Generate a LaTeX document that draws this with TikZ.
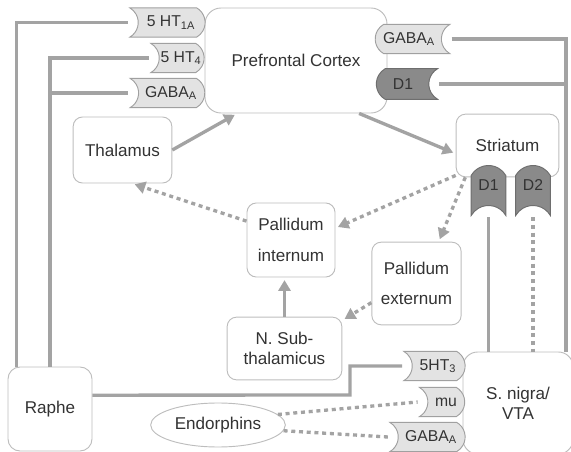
\documentclass[tikz,border=0pt]{standalone}
\usepackage{fontspec}
\setmainfont{Liberation Sans}
\usepackage{tikz}
\usetikzlibrary{shapes.geometric,shapes.misc,arrows.meta,positioning}
\definecolor{BoxLine}{HTML}{BDBDBD}
\definecolor{LinkGray}{HTML}{A3A3A3}
\definecolor{TabFill}{HTML}{E3E3E3}
\definecolor{TabLine}{HTML}{A0A0A0}
\definecolor{DarkTab}{HTML}{8A8A8A}
\definecolor{DarkLine}{HTML}{6E6E6E}
\definecolor{TextGray}{HTML}{333333}
\tikzset{
  % Region box
  RB/.style={rectangle,rounded corners=7pt,draw=BoxLine,fill=white,
             line width=0.7pt,align=center,text=TextGray,
             font=\fontsize{12.8}{15}\selectfont},
  % Receptor tab, open to the left
  tL/.style={rounded rectangle,rounded rectangle arc length=120,
             rounded rectangle left arc=concave,draw=TabLine,fill=TabFill,
             line width=0.7pt,minimum height=22pt,inner sep=1pt,
             text=TextGray,font=\fontsize{11.8}{13}\selectfont},
  % Receptor tab, open to the right
  tR/.style={tL,rounded rectangle left arc=convex,
             rounded rectangle right arc=concave},
  tD/.style={tR,fill=DarkTab,draw=DarkLine},
  % Receptor tab, hanging down
  tV/.style={tL,fill=DarkTab,draw=DarkLine,rotate=90,
             minimum width=32pt,minimum height=26pt},
  % Links and arrows
  link/.style={draw=LinkGray,line width=2.5pt},
  arr/.style={link,-{Triangle[length=8pt,width=9pt]},shorten >=2pt},
  dots/.style={link,dash pattern=on 3pt off 2.8pt},
  darr/.style={arr,dash pattern=on 3pt off 2.8pt}
}
\begin{document}
\begin{tikzpicture}[x=0.75pt,y=-0.75pt]
  \useasboundingbox (0,0) rectangle (571,452);
  \node[RB,minimum width=136.5pt,minimum height=78.75pt,rounded corners=12pt] (pfc) at (296,60.5) {Prefrontal Cortex};
  \node[tL,minimum width=58.5pt] (ht1a)  at (171,22.5) {5 HT\textsubscript{1A}};
  \node[tL,minimum width=42pt]   (ht4)   at (181,58)   {5 HT\textsubscript{4}};
  \node[tL,minimum width=58pt]   (gabaL) at (171,93)   {GABA\textsubscript{A}};
  \node[tR,minimum width=58pt]   (gabaR) at (409,39)   {GABA\textsubscript{A}};
  \node[tD,minimum width=48pt,minimum height=23pt] (d1pfc) at (403,84) {D1};
  \node[RB,minimum width=74pt,minimum height=49.5pt] (thal) at (122.5,150) {Thalamus};
  \node[RB,minimum width=77pt,minimum height=47pt]   (str)  at (507.5,145.5) {Striatum};
  \node[tV] (d1str) at (488.5,185.5) {};
  \node[tV] (d2str) at (533,185.5) {};
  \node[text=TextGray,font=\fontsize{11.8}{13}\selectfont] at (d1str) {D1};
  \node[text=TextGray,font=\fontsize{11.8}{13}\selectfont] at (d2str) {D2};
  \node[RB,minimum width=66pt,minimum height=55.5pt,font=\fontsize{12.8}{23}\selectfont] (pint) at (291,240) {Pallidum\\internum};
  \node[RB,minimum width=67pt,minimum height=62pt,font=\fontsize{12.8}{23}\selectfont]   (pext) at (416.5,283.5) {Pallidum\\externum};
  \node[RB,minimum width=86pt,minimum height=47pt] (nsub) at (284.5,348.5) {N. Sub-\\thalamicus};
  \node[RB,minimum width=63pt,minimum height=63pt,rounded corners=9pt] (raphe) at (50,409) {Raphe};
  \node[RB,minimum width=82.5pt,minimum height=76.5pt,rounded corners=11pt] (snigra) at (518,403) {S. nigra/\\VTA};
  \node[tL,minimum width=48pt]   (ht3)   at (438,366) {5HT\textsubscript{3}};
  \node[tL,minimum width=36pt]   (mu)    at (446,402) {mu};
  \node[tL,minimum width=58.5pt] (gabaS) at (431,437) {GABA\textsubscript{A}};
  \node[RB,ellipse,minimum width=100pt,minimum height=33pt] (endo) at (218,425) {Endorphins};
  \coordinate (kink) at (350,395);

  \draw[link] (raphe.128) |- (ht1a.west);
  \draw[link] (raphe.north) |- (ht4.west);
  \draw[link] (raphe.north) |- (gabaL.west);
  \draw[link] (gabaR.east) -| (snigra.47);
  \draw[link] (d1pfc.east) -| (snigra.47);
  \draw[link] (raphe.18) -- (kink) |- (ht3.west);
  \draw[link] (d1str.west) -- (d1str.west |- snigra.north);
  \draw[dots] (d2str.west) -- (d2str.west |- snigra.north);
  \draw[dots] (endo.10) -- (mu.west);
  \draw[dots] (endo.-5) -- (gabaS.west);
  \draw[arr]  (thal.east) -- (pfc.222);
  \draw[arr]  (pfc.320) -- (str.189);
  \draw[arr]  (nsub.north) -- (nsub.north |- pint.south);
  \draw[darr] (str.210) -- (pint.15);
  \draw[darr] (str.217) -- (pext.62);
  \draw[darr] (pint.157) -- (thal.286);
  \draw[darr] (pext.203) -- (nsub.26);
\end{tikzpicture}
\end{document}
